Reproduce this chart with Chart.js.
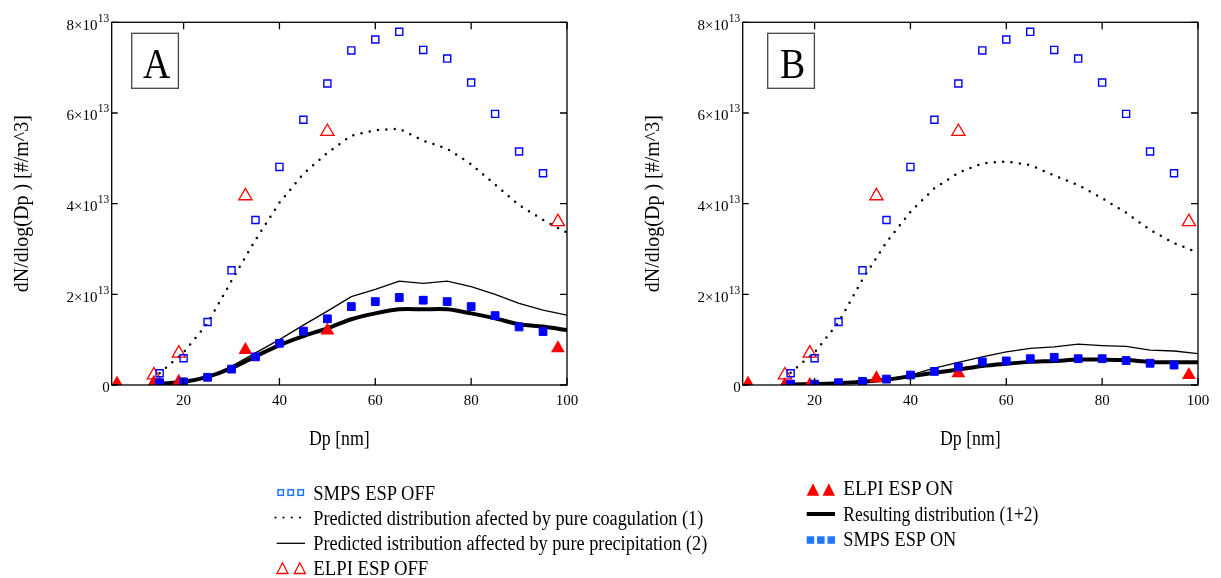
<!DOCTYPE html>
<html>
<head>
<meta charset="utf-8">
<title>Particle size distributions, ESP off / on</title>
<script src="https://cdn.jsdelivr.net/npm/chart.js@4.4.1/dist/chart.umd.min.js"></script>
<style>
  html, body { margin: 0; padding: 0; background: #fff; }
  #wrap { position: relative; width: 1221px; height: 578px; overflow: hidden; }
  #wrap canvas { position: absolute; top: 0; }
  #cA { left: 0; }
  #cB { left: 610px; }
  #legend { position: absolute; left: 0; top: 0; }
  #legend text { font-family: "Liberation Serif", "Times New Roman", serif; font-size: 20px; fill: #000; }
</style>
</head>
<body>
<div id="wrap">
  <canvas id="cA" width="610" height="470"></canvas>
  <canvas id="cB" width="611" height="470"></canvas>
  <svg id="legend" width="1221" height="578" xmlns="http://www.w3.org/2000/svg">
    <!-- left column -->
    <g fill="none" stroke="#1e78ff" stroke-width="1.5">
      <rect x="278" y="489.7" width="5.4" height="5.6"/>
      <rect x="288" y="489.7" width="5.4" height="5.6"/>
      <rect x="298" y="489.7" width="5.4" height="5.6"/>
    </g>
    <text x="313.3" y="500" textLength="121.7" lengthAdjust="spacingAndGlyphs">SMPS ESP OFF</text>
    <g fill="#000">
      <circle cx="275.5" cy="517.5" r="1.1"/>
      <circle cx="283.5" cy="517.5" r="1.1"/>
      <circle cx="291.8" cy="517.5" r="1.1"/>
      <circle cx="300" cy="517.5" r="1.1"/>
    </g>
    <text x="313.3" y="524.5" textLength="390" lengthAdjust="spacingAndGlyphs">Predicted distribution afected by pure coagulation (1)</text>
    <line x1="276.7" y1="543.3" x2="305" y2="543.3" stroke="#000" stroke-width="1.3"/>
    <text x="313.3" y="549.5" textLength="394" lengthAdjust="spacingAndGlyphs">Predicted istribution affected by pure precipitation (2)</text>
    <g fill="none" stroke="#ff0000" stroke-width="1.3">
      <polygon points="282.5,562.8 288,573.5 277,573.5"/>
      <polygon points="299.8,562.8 305.3,573.5 294.3,573.5"/>
    </g>
    <text x="313.3" y="574.5" textLength="115" lengthAdjust="spacingAndGlyphs">ELPI ESP OFF</text>
    <!-- right column -->
    <g fill="#ff0000">
      <polygon points="813,483.3 819.3,495.7 806.7,495.7"/>
      <polygon points="828.8,483.3 835,495.7 822.6,495.7"/>
    </g>
    <text x="843.3" y="495" textLength="110" lengthAdjust="spacingAndGlyphs">ELPI ESP ON</text>
    <line x1="806.7" y1="514" x2="835" y2="514" stroke="#000" stroke-width="4"/>
    <text x="843.3" y="520.5" textLength="195" lengthAdjust="spacingAndGlyphs">Resulting distribution (1+2)</text>
    <g fill="#1e78ff">
      <rect x="806.7" y="536.3" width="7.5" height="7.5"/>
      <rect x="817.1" y="536.3" width="7.5" height="7.5"/>
      <rect x="827.5" y="536.3" width="7.5" height="7.5"/>
    </g>
    <text x="843.3" y="546" textLength="113" lengthAdjust="spacingAndGlyphs">SMPS ESP ON</text>
  </svg>
</div>

<script>
// Particle diameter Dp [nm] and dN/dlog(Dp) values in units of 10^13 #/m^3.

// SMPS size channels
const dpSmps = [15, 20, 25, 30, 35, 40, 45, 50, 55, 60, 65, 70, 75, 80, 85, 90, 95];
const smpsOff = [0.26, 0.59, 1.39, 2.53, 3.64, 4.81, 5.85, 6.65, 7.38, 7.62, 7.79, 7.39, 7.20, 6.67, 5.98, 5.15, 4.67];
const smpsOnA = [0.05, 0.07, 0.17, 0.35, 0.62, 0.92, 1.19, 1.46, 1.73, 1.84, 1.93, 1.87, 1.84, 1.73, 1.53, 1.28, 1.18];
const smpsOnB = [0.02, 0.02, 0.05, 0.08, 0.13, 0.22, 0.30, 0.40, 0.51, 0.53, 0.58, 0.61, 0.58, 0.58, 0.54, 0.48, 0.44];

// ELPI impactor stages
const dpElpi = [6.1, 13.8, 19.0, 32.9, 50.0, 98.1];
const elpiOff = [0.01, 0.22, 0.70, 4.17, 5.59, 3.60];
const elpiOnA = [0.00, 0.05, 0.07, 0.77, 1.20, 0.81];
const elpiOnB = [0.00, 0.00, 0.00, 0.15, 0.26, 0.22];

// Model curves
const dpModel = [14, 15, 20, 25, 30, 35, 40, 45, 50, 55, 60, 65, 70, 75, 80, 85, 90, 95, 100];
const coagA   = [null, 0.26, 0.72, 1.36, 2.30, 3.20, 4.02, 4.66, 5.12, 5.50, 5.62, 5.65, 5.39, 5.21, 4.87, 4.42, 3.97, 3.64, 3.36];
const coagB   = [null, 0.27, 0.72, 1.38, 2.33, 3.15, 3.82, 4.34, 4.68, 4.89, 4.93, 4.85, 4.62, 4.41, 4.12, 3.80, 3.42, 3.13, 2.92];
const precipA = [0.02, 0.03, 0.07, 0.18, 0.41, 0.71, 1.00, 1.32, 1.63, 1.95, 2.11, 2.29, 2.24, 2.29, 2.17, 2.00, 1.80, 1.65, 1.54];
const precipB = [0.01, 0.01, 0.02, 0.04, 0.08, 0.13, 0.22, 0.37, 0.50, 0.62, 0.73, 0.81, 0.84, 0.90, 0.87, 0.85, 0.77, 0.75, 0.69];
const resultA = [0.02, 0.03, 0.07, 0.18, 0.37, 0.63, 0.88, 1.08, 1.25, 1.45, 1.58, 1.67, 1.67, 1.67, 1.58, 1.47, 1.34, 1.29, 1.21];
const resultB = [0.01, 0.01, 0.02, 0.04, 0.07, 0.12, 0.19, 0.27, 0.34, 0.42, 0.47, 0.51, 0.53, 0.56, 0.56, 0.55, 0.51, 0.50, 0.50];

// Axes
const xTicks = [20, 40, 60, 80, 100];
const yTicks = [0, 2, 4, 6, 8];
const yExponent = '13';
const xTitle = 'Dp [nm]';
const yTitle = 'dN/dlog(Dp ) [#/m^3]';

const SERIF = '"Liberation Serif", "Times New Roman", serif';

function pts(xs, ys) {
  return xs.map((x, i) => ({ x: x, y: ys[i] }));
}

// Frame with inward ticks on all sides, n×10^13 tick labels, axis titles and panel letter
const framePlugin = {
  id: 'frame',
  afterDraw(chart, args, opts) {
    const ctx = chart.ctx;
    const a = chart.chartArea;
    const xs = chart.scales.x, ys = chart.scales.y;
    ctx.save();

    ctx.strokeStyle = '#000';
    ctx.lineWidth = 1.3;
    ctx.strokeRect(a.left, a.top, a.right - a.left, a.bottom - a.top);

    ctx.beginPath();
    xTicks.forEach(v => {
      const px = xs.getPixelForValue(v);
      ctx.moveTo(px, a.bottom); ctx.lineTo(px, a.bottom - 7);
      ctx.moveTo(px, a.top);    ctx.lineTo(px, a.top + 7);
    });
    yTicks.forEach(v => {
      const py = ys.getPixelForValue(v);
      ctx.moveTo(a.left, py);  ctx.lineTo(a.left + 6, py);
      ctx.moveTo(a.right, py); ctx.lineTo(a.right - 7, py);
    });
    ctx.stroke();

    ctx.fillStyle = '#000';
    ctx.textBaseline = 'alphabetic';

    // x tick labels
    ctx.font = '15px ' + SERIF;
    ctx.textAlign = 'center';
    xTicks.forEach(v => {
      ctx.fillText(String(v), xs.getPixelForValue(v), a.bottom + 20);
    });

    // y tick labels with superscript exponent
    ctx.textAlign = 'right';
    yTicks.forEach(v => {
      const py = ys.getPixelForValue(v);
      const rx = a.left - 2.5;
      if (v === 0) {
        ctx.font = '15px ' + SERIF;
        ctx.fillText('0', rx + 0.5, py + 6.5);
        return;
      }
      ctx.font = '11.5px ' + SERIF;
      const supW = ctx.measureText(yExponent).width;
      ctx.fillText(yExponent, rx, py - 0.5);
      ctx.font = '15px ' + SERIF;
      ctx.fillText(v + '\u00d710', rx - supW - 0.3, py + 7.5);
    });

    // x title
    ctx.font = '20px ' + SERIF;
    ctx.textAlign = 'center';
    ctx.save();
    ctx.translate((a.left + a.right) / 2, 445);
    ctx.scale(0.89, 1);
    ctx.fillText(xTitle, 0, 0);
    ctx.restore();

    // y title
    ctx.save();
    ctx.translate(a.left - 88.7, (a.top + a.bottom) / 2);
    ctx.rotate(-Math.PI / 2);
    ctx.textBaseline = 'middle';
    ctx.fillText(yTitle, 0, 0);
    ctx.restore();

    // panel letter in a box
    const bx = a.left + opts.boxOffset, by = 33.3, bw = 46.7, bh = 55;
    ctx.strokeStyle = '#444';
    ctx.lineWidth = 1.3;
    ctx.strokeRect(bx, by, bw, bh);
    ctx.font = '42px ' + SERIF;
    ctx.save();
    ctx.translate(bx + bw / 2 + 1.5, 78.3);
    ctx.scale(0.9, 1);
    ctx.fillText(opts.letter, 0, 0);
    ctx.restore();

    ctx.restore();
  }
};

function makeChart(id, letter, boxOffset, padding, smpsOn, elpiOn, coag, precip, result) {
  const datasets = [
    {
      label: 'SMPS ESP ON', data: pts(dpSmps, smpsOn), order: 1,
      pointStyle: 'rect', pointRadius: 5.5, borderWidth: 1,
      pointBackgroundColor: '#0000ff', pointBorderColor: '#0000ff', showLine: false
    },
    {
      label: 'SMPS ESP OFF', data: pts(dpSmps, smpsOff), order: 2,
      pointStyle: 'rect', pointRadius: 5, pointBorderWidth: 1.4,
      pointBackgroundColor: 'rgba(0,0,0,0)', pointBorderColor: '#0000ff', showLine: false
    },
    {
      label: 'ELPI ESP ON', data: pts(dpElpi, elpiOn), order: 3,
      pointStyle: 'triangle', pointRadius: 8, pointBorderWidth: 0,
      pointBackgroundColor: '#ff0000', pointBorderColor: '#ff0000', showLine: false
    },
    {
      label: 'ELPI ESP OFF', data: pts(dpElpi, elpiOff), order: 4,
      pointStyle: 'triangle', pointRadius: 7.6, pointBorderWidth: 1.3,
      pointBackgroundColor: 'rgba(0,0,0,0)', pointBorderColor: '#ff0000', showLine: false
    },
    {
      label: 'Resulting distribution (1+2)', data: pts(dpModel, result), order: 5,
      showLine: true, borderColor: '#000', borderWidth: 4, tension: 0.3, pointRadius: 0
    },
    {
      label: 'Predicted istribution affected by pure precipitation (2)', data: pts(dpModel, precip), order: 6,
      showLine: true, borderColor: '#000', borderWidth: 1.3, tension: 0, pointRadius: 0
    },
    {
      label: 'Predicted distribution afected by pure coagulation (1)', data: pts(dpModel, coag), order: 7,
      showLine: true, borderColor: '#000', borderWidth: 2.5, borderDash: [0, 8.4],
      borderCapStyle: 'round', tension: 0, pointRadius: 0
    }
  ];
  datasets.forEach(d => { d.clip = 0; });

  return new Chart(document.getElementById(id), {
    type: 'scatter',
    data: { datasets: datasets },
    options: {
      responsive: false,
      maintainAspectRatio: false,
      animation: false,
      devicePixelRatio: 1,
      layout: { padding: padding },
      plugins: {
        legend: { display: false },
        tooltip: { enabled: false },
        frame: { letter: letter, boxOffset: boxOffset }
      },
      scales: {
        x: { type: 'linear', min: 5, max: 100, display: false },
        y: { type: 'linear', min: 0, max: 8, display: false }
      }
    },
    plugins: [framePlugin]
  });
}

makeChart('cA', 'A', 20, { left: 111.7, top: 22.3, right: 43, bottom: 85 },
  smpsOnA, elpiOnA, coagA, precipA, resultA);
makeChart('cB', 'B', 25, { left: 132.7, top: 22.3, right: 23, bottom: 85 },
  smpsOnB, elpiOnB, coagB, precipB, resultB);
</script>
</body>
</html>
